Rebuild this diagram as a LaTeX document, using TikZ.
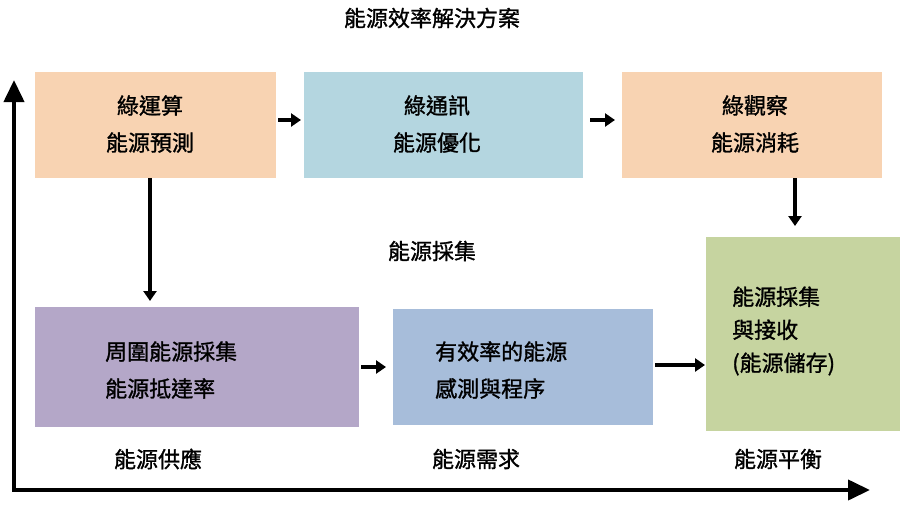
\documentclass[tikz,border=0pt]{standalone}
\usepackage{fontspec}
\setmainfont{Noto Sans CJK TC}[FakeBold=1.2,AutoFakeBold=1.2]
\usetikzlibrary{arrows.meta}
\definecolor{peach}{HTML}{F8D3B2}
\definecolor{lblue}{HTML}{B4D6E0}
\definecolor{lgreen}{HTML}{C6D4A0}
\definecolor{lpurple}{HTML}{B4A7C8}
\definecolor{sblue}{HTML}{A7BDDA}
\tikzset{
  box/.style={inner sep=0pt, align=center, font=\fontsize{22}{37}\bfseries\selectfont},
  lbl/.style={font=\fontsize{22}{26}\bfseries\selectfont},
  link/.style={line width=4.5pt, -{Triangle[length=10pt,width=13pt]}}
}
\begin{document}
\begin{tikzpicture}[x=1pt,y=-1pt]
    \useasboundingbox (0,0) rectangle (900,504);
    \fill[peach] (35,72) rectangle (276,178);
    \fill[lblue] (304,72) rectangle (583,178);
    \fill[peach] (622,72) rectangle (882,178);
    \fill[lgreen] (706,237) rectangle (900,431);
    \fill[lpurple] (35,307) rectangle (359,427);
    \fill[sblue] (393,309) rectangle (653,425);
    \node[box] (a) at (150,124) {綠運算\\能源預測};
    \node[box] (b) at (437,124) {綠通訊\\能源優化};
    \node[box] (c) at (755,124) {綠觀察\\能源消耗};
    \node[box, align=left, anchor=west, font=\fontsize{22}{33}\bfseries\selectfont] (d) at (732,331) {能源採集\\與接收\\(能源儲存)};
    \node[box, align=left, anchor=west] (e) at (105,370) {周圍能源採集\\能源抵達率};
    \node[box, align=left, anchor=west] (f) at (435,370) {有效率的能源\\感測與程序};
    \node[lbl] (title) at (432,18) {能源效率解決方案};
    \node[lbl] (harv) at (432,251) {能源採集};
    \node[lbl] (supply) at (158,459) {能源供應};
    \node[lbl] (demand) at (476,459) {能源需求};
    \node[lbl] (bal) at (778,459) {能源平衡};
    \coordinate (a1) at (278,120); \coordinate (b0) at (301,120);
    \coordinate (b1) at (590,120); \coordinate (c0) at (615,120);
    \coordinate (c1) at (795,178); \coordinate (d0) at (795,226);
    \coordinate (a2) at (150,178); \coordinate (e0) at (150,301);
    \coordinate (e1) at (361,367); \coordinate (f0) at (386,367);
    \coordinate (f1) at (655,365); \coordinate (d1) at (705,365);
    \coordinate (o) at (14,490); \coordinate (yt) at (14,80); \coordinate (xt) at (870,490);
    \draw[link] (a1) -- (b0);
    \draw[link] (b1) -- (c0);
    \draw[link] (c1) -- (d0);
    \draw[link] (a2) -- (e0);
    \draw[link] (e1) -- (f0);
    \draw[link] (f1) -- (d1);
    \draw[line width=4pt, {Triangle[length=22pt,width=20pt]}-{Triangle[length=22pt,width=20pt]}] (yt) -- (o) -- (xt);
\end{tikzpicture}
\end{document}
